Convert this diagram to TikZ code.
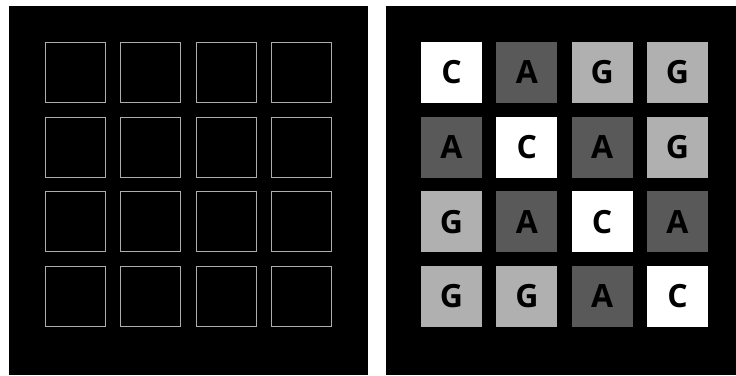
\documentclass[tikz,border=0pt]{standalone}
\usepackage{fontspec}
\newfontfamily\basefont{Open Sans}
\usetikzlibrary{positioning}
\definecolor{bA}{HTML}{595959}
\definecolor{bG}{HTML}{B0B0B0}
\definecolor{bC}{HTML}{FFFFFF}
\definecolor{rim}{HTML}{ADADAD}
\tikzset{
  panel/.style={fill=black,draw=none},
  slot/.style={draw=rim,line width=1.2pt,minimum size=60pt,inner sep=0pt},
  base/.style={minimum size=61pt,inner sep=0pt,text=black,
    font=\basefont\bfseries\fontsize{32}{32}\selectfont},
  baseA/.style={base,fill=bA},
  baseG/.style={base,fill=bG},
  baseC/.style={base,fill=bC},
}

\begin{document}
\begin{tikzpicture}[x=1pt,y=-1pt]
  \useasboundingbox (0,0) rectangle (736,375);
  % the two panels
  \fill[panel] (9,6) rectangle (368,375);
  \fill[panel] (386,6) rectangle (736,375);
  % empty grid
  \foreach \r in {1,...,4}{
    \foreach \c in {1,...,4}{
      \node[slot] (e\r\c) at ({75.5+75.33*(\c-1)},{72.5+74.67*(\r-1)}){};
    }
  }
  % filled grid
  \foreach \row [count=\r] in {{C,A,G,G},{A,C,A,G},{G,A,C,A},{G,G,A,C}}{
    \foreach \b [count=\c] in \row {
      \node[base\b] (s\r\c) at ({451.5+75.33*(\c-1)},{72.5+74.67*(\r-1)}){\b};
    }
  }
\end{tikzpicture}
\end{document}
